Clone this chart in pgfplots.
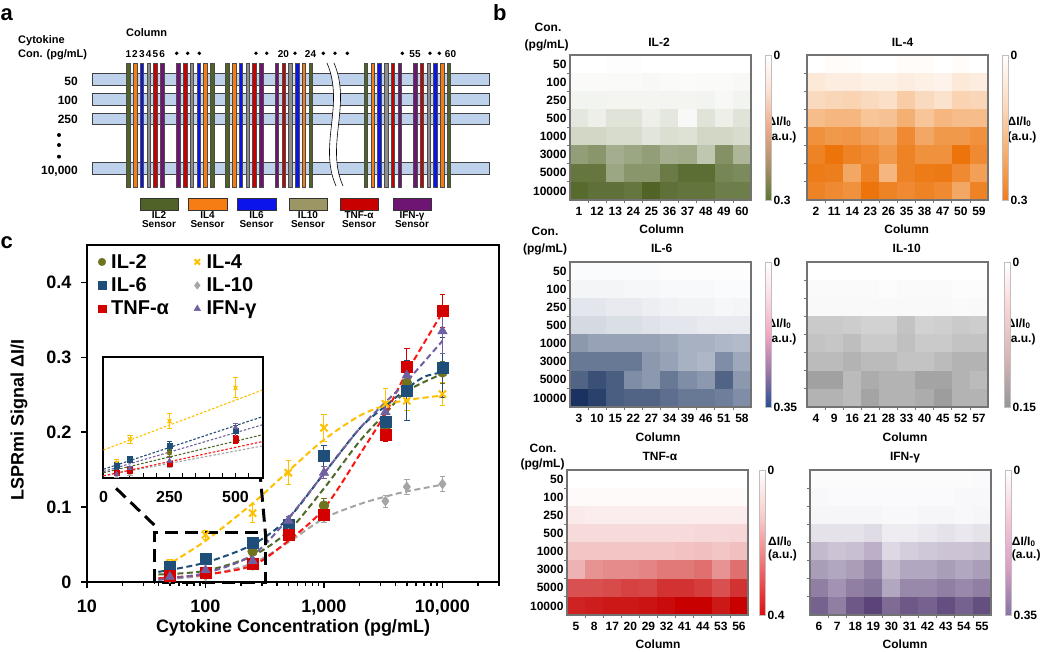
\documentclass[border=0pt]{standalone}
\usepackage{pgfplots}
\pgfplotsset{compat=1.18}
\usepackage{pgfplotstable}
\usepackage{fontspec}
\setmainfont{Liberation Sans}

\newcommand{\fs}[1]{\fontsize{#1}{#1}\selectfont\bfseries}

% series colours (panel c)
\definecolor{ciltwo}{RGB}{111,115,31}
\definecolor{liltwo}{RGB}{80,105,40}
\definecolor{cilfour}{RGB}{255,192,0}
\definecolor{cilsix}{RGB}{31,78,121}
\definecolor{cilten}{RGB}{165,165,165}
\definecolor{ctnf}{RGB}{212,0,0}
\definecolor{ltnf}{RGB}{255,20,20}
\definecolor{cifn}{RGB}{112,96,160}
% sensor colours (panel a)
\definecolor{sgreen}{RGB}{79,98,40}
\definecolor{sorange}{RGB}{245,125,20}
\definecolor{sblue}{RGB}{10,20,235}
\definecolor{skhaki}{RGB}{155,150,100}
\definecolor{sgray}{RGB}{140,140,140}
\definecolor{sred}{RGB}{200,0,0}
\definecolor{spurple}{RGB}{110,20,115}
\definecolor{strip}{RGB}{190,210,235}

\pgfplotsset{
  colormap={hIItwo}{rgb255=(255,255,255) rgb255=(75,95,30)},
  colormap={hIIfour}{rgb255=(255,255,255) rgb255=(235,110,0)},
  colormap={hIIsix}{rgb255=(255,255,255) rgb255=(25,50,95)},
  colormap={hIIten}{rgb255=(255,255,255) rgb255=(105,105,105)},
  colormap={hTNF}{rgb255=(255,255,255) rgb255=(200,0,0)},
  colormap={hIFN}{rgb255=(255,255,255) rgb255=(85,60,115)},
  colormap={bIItwo}{rgb255=(95,120,50) rgb255=(175,145,105) rgb255=(240,170,135) rgb255=(252,225,210) rgb255=(255,255,255)},
  colormap={bIIfour}{rgb255=(240,125,30) rgb255=(248,175,110) rgb255=(252,220,190) rgb255=(255,255,255)},
  colormap={bIIsix}{rgb255=(40,80,150) rgb255=(160,120,170) rgb255=(245,165,195) rgb255=(250,220,230) rgb255=(255,255,255)},
  colormap={bIIten}{rgb255=(150,150,150) rgb255=(215,180,182) rgb255=(250,210,212) rgb255=(255,255,255)},
  colormap={bTNF}{rgb255=(225,15,15) rgb255=(240,110,110) rgb255=(250,200,200) rgb255=(255,255,255)},
  colormap={bIFN}{rgb255=(135,115,170) rgb255=(220,160,195) rgb255=(248,200,218) rgb255=(255,255,255)},
  hm/.style={
    scale only axis, width=181pt, height=145pt, anchor=north west,
    xmin=-0.5, xmax=9.5, ymin=-0.5, ymax=7.5, y dir=reverse,
    enlargelimits=false, axis on top,
    xtick={0,...,9}, ytick={0,...,7},
    minor xtick={0.5,1.5,...,8.5}, minor ytick={0.5,1.5,...,6.5},
    major tick length=0pt, minor tick length=3pt,
    tick align=outside, xtick pos=bottom, ytick pos=left,
    tick style={draw=black!55, line width=0.8pt},
    axis line style={draw=black!55, line width=1.2pt},
    ticklabel style={font=\fs{12}},
    xticklabel style={yshift=-4pt},
    yticklabels={},
    point meta min=0, point meta max=1,
  },
  cb/.style n args={3}{
    colorbar right,
    colorbar style={colormap name=#1,
      at={(parent axis.north east)}, anchor=north west, xshift=#3,
      scale only axis, width=6pt, height=145pt,
      ytick={0,1}, yticklabels={\textbf{#2},\textbf{0}},
      major tick length=0pt, yticklabel pos=right,
      axis line style={draw=black!25, line width=0.4pt},
      yticklabel style={font=\fs{12}, inner sep=2pt}},
  },
  ebar/.style={
    error bars/y dir=both, error bars/y explicit,
    error bars/error bar style={line width=#1},
    error bars/error mark options={rotate=90, mark size=2.8pt, line width=#1}},
  fit/.style={forget plot, smooth, line width=2pt, dash pattern=on 6pt off 3.5pt},
  ifit/.style={line width=1.1pt, dash pattern=on 2.5pt off 1.8pt},
}

% panel c data: concentration, signal, error
\pgfplotstableread{
x y e
50 0.010 0.004
100 0.013 0.004
250 0.041 0.005
500 0.075 0.006
1000 0.102 0.010
3300 0.205 0.010
5000 0.266 0.012
10000 0.280 0.015
}\tIItwo
\pgfplotstableread{
x y e
50 0.025 0.005
100 0.063 0.006
250 0.092 0.012
500 0.146 0.016
1000 0.206 0.018
3300 0.238 0.020
5000 0.242 0.013
10000 0.251 0.015
}\tIIfour
\pgfplotstableread{
x y e
50 0.020 0.005
100 0.031 0.005
250 0.052 0.007
500 0.077 0.008
1000 0.168 0.014
3300 0.214 0.012
5000 0.256 0.040
10000 0.286 0.040
}\tIIsix
\pgfplotstableread{
x y e
50 0.005 0.003
100 0.008 0.003
250 0.022 0.004
500 0.065 0.005
1000 0.086 0.006
3300 0.108 0.008
5000 0.127 0.010
10000 0.131 0.010
}\tIIten
\pgfplotstableread{
x y e
50 0.009 0.003
100 0.013 0.004
250 0.024 0.004
500 0.063 0.006
1000 0.090 0.008
3300 0.197 0.010
5000 0.287 0.025
10000 0.362 0.022
}\tTNF
\pgfplotstableread{
x y e
50 0.007 0.003
100 0.016 0.004
250 0.028 0.005
500 0.082 0.006
1000 0.146 0.008
3300 0.227 0.010
5000 0.276 0.015
10000 0.335 0.030
}\tIFN

\begin{document}
\begin{tikzpicture}
\useasboundingbox (0,0) rectangle (1050pt,-651pt);
\fill[white] (0,0) rectangle (1050pt,-651pt);

% ---------------- panel a ----------------
\begin{scope}[x=1pt,y=-1pt]
\node[font=\fs{22},anchor=base west,inner sep=0pt] at (0.5,20) {a};
\node[font=\fs{22},anchor=base west,inner sep=0pt] at (493,20) {b};
\node[font=\fs{22},anchor=base west,inner sep=0pt] at (0.5,248) {c};

\node[font=\fs{11},anchor=base,inner sep=0pt] at (146.7,36.5) {Column};
\node[font=\fs{11},anchor=base west,inner sep=0pt] at (18,43) {Cytokine};
\node[font=\fs{11},anchor=base west,inner sep=0pt] at (18,57) {Con. (pg/mL)};
\foreach \t/\y in {50/85,100/104.5,250/123.5,{10,000}/174}
  \node[font=\fs{12},anchor=base east,inner sep=0pt] at (78,\y) {\t};
\foreach \y in {135,145,156.7} \fill (59,\y) circle (2);

\foreach \ya/\yb in {73/85,93/105,113/124.5,162/174}
  \draw[fill=strip, draw=black!75, line width=0.6pt] (92,\ya) rectangle (489,\yb);
\fill[white] (327,60) .. controls (345,105) and (318,145) .. (336,189) -- (343,189)
  .. controls (325,145) and (352,105) .. (334,60) -- cycle;
\draw[line width=0.6pt] (327,63) .. controls (345,105) and (318,145) .. (336,186);
\draw[line width=0.6pt] (334,63) .. controls (352,105) and (325,145) .. (343,186);

\foreach \x/\c in {128.3/sgreen,135.0/sorange,141.8/sblue,148.6/sgray,155.3/sred,162.1/spurple,
  178.3/spurple,185.0/sred,191.8/sgray,198.6/sblue,205.3/sorange,212.1/sgreen,
  227.3/sgreen,234.0/sorange,240.8/sblue,247.6/sgray,254.3/sred,261.1/spurple,
  276.7/spurple,283.4/sred,290.2/sgray,297.0/sblue,303.7/sorange,310.5/sgreen,
  365.7/sgreen,372.4/sorange,379.2/sblue,386.0/sgray,392.7/sred,399.5/spurple,
  415.0/spurple,421.7/sred,428.5/sgray,435.3/sblue,442.0/sorange,448.8/sgreen}
  \draw[fill=\c, draw=black!70, line width=0.4pt] ({\x-1.7},63) rectangle ({\x+1.7},187);

\foreach \x/\t in {128.3/1,135.0/2,141.8/3,148.6/4,155.3/5,162.1/6,283.4/20,310.5/24,415.0/55,450.5/60}
  \node[font=\fs{10},anchor=base,inner sep=0pt] at (\x,57.3) {\t};
\foreach \x in {176.7,187.7,199.3,256,266.7,295,323.3,335,347.3,402.3,430,439.3}
  \fill (\x,53.3) circle (1.9);

\foreach \xa/\xb/\c/\t in {140/178/sgreen/IL2,188/227/sorange/IL4,237/276/sblue/IL6,
  289/327/skhaki/IL10,340/378/sred/TNF-α,393/431/spurple/IFN-γ}{
  \draw[fill=\c, draw=black!80, line width=0.8pt] (\xa,198) rectangle (\xb,210);
  \node[font=\fs{10},anchor=base,inner sep=0pt] at ({(\xa+\xb)/2},218) {\t};
  \node[font=\fs{10},anchor=base,inner sep=0pt] at ({(\xa+\xb)/2},227) {Sensor};
}
\end{scope}

% ---------------- panel b: labels ----------------
\begin{scope}[x=1pt,y=-1pt]
\foreach \x/\y/\t in {548/31.7/Con., 546.7/48/{(pg/mL)}, 659/46.7/IL-2, 902.5/46.7/IL-4,
  661.7/233/Column, 906.7/233/Column,
  545/235/Con., 545/252/{(pg/mL)}, 661.7/252.3/IL-6, 906.7/252.3/IL-10,
  658/441.7/Column, 905/441.7/Column,
  543/452.7/Con., 542.5/467/{(pg/mL)}, 660/460/TNF-α, 905/460/IFN-γ,
  658/648/Column, 905/648/Column}
  \node[font=\fs{12},anchor=base,inner sep=0pt] at (\x,\y) {\t};
\foreach \x/\ya/\yb in {767.5/125/140, 1007.5/125/140, 767.5/327/342, 1006.7/327/342,
  768/545/558.7, 1011.7/545/558.7}{
  \node[font=\fs{12},anchor=base west,inner sep=0pt] at (\x,\ya) {ΔI/I\textsubscript{0}};
  \node[font=\fs{12},anchor=base west,inner sep=0pt] at (\x,\yb) {(a.u.)};
}
\end{scope}

% ---------------- panel b: heat maps ----------------
\begin{axis}[hm, at={(570pt,-55pt)}, colormap name=hIItwo, cb={bIItwo}{0.3}{6pt},
  yticklabels={\textbf{50},\textbf{100},\textbf{250},\textbf{500},\textbf{1000},\textbf{3000},\textbf{5000},\textbf{10000}},
  xticklabels={\textbf{1},\textbf{12},\textbf{13},\textbf{24},\textbf{25},\textbf{36},\textbf{37},\textbf{48},\textbf{49},\textbf{60}}]
\addplot[matrix plot*, mesh/cols=10, mesh/rows=8, point meta=explicit] coordinates {
(0,0)[0] (1,0)[0] (2,0)[0.01] (3,0)[0.01] (4,0)[0] (5,0)[0] (6,0)[0] (7,0)[0] (8,0)[0] (9,0)[0]
(0,1)[0.03] (1,1)[0.03] (2,1)[0.03] (3,1)[0.03] (4,1)[0.04] (5,1)[0.03] (6,1)[0.02] (7,1)[0.03] (8,1)[0.03] (9,1)[0.04]
(0,2)[0.07] (1,2)[0.07] (2,2)[0.06] (3,2)[0.06] (4,2)[0.06] (5,2)[0.06] (6,2)[0.06] (7,2)[0.07] (8,2)[0.04] (9,2)[0.07]
(0,3)[0.15] (1,3)[0.10] (2,3)[0.17] (3,3)[0.17] (4,3)[0.10] (5,3)[0.15] (6,3)[0.04] (7,3)[0.17] (8,3)[0.10] (9,3)[0.17]
(0,4)[0.25] (1,4)[0.25] (2,4)[0.22] (3,4)[0.22] (4,4)[0.16] (5,4)[0.20] (6,4)[0.18] (7,4)[0.25] (8,4)[0.25] (9,4)[0.22]
(0,5)[0.60] (1,5)[0.65] (2,5)[0.50] (3,5)[0.55] (4,5)[0.60] (5,5)[0.50] (6,5)[0.52] (7,5)[0.35] (8,5)[0.68] (9,5)[0.45]
(0,6)[0.85] (1,6)[0.85] (2,6)[0.55] (3,6)[0.65] (4,6)[0.65] (5,6)[0.82] (6,6)[0.90] (7,6)[0.90] (8,6)[0.75] (9,6)[0.72]
(0,7)[0.92] (1,7)[0.88] (2,7)[0.88] (3,7)[0.85] (4,7)[0.96] (5,7)[0.88] (6,7)[0.86] (7,7)[0.86] (8,7)[0.80] (9,7)[0.80]
};
\end{axis}

\begin{axis}[hm, at={(807pt,-55pt)}, colormap name=hIIfour, cb={bIIfour}{0.3}{6pt},
  xticklabels={\textbf{2},\textbf{11},\textbf{14},\textbf{23},\textbf{26},\textbf{35},\textbf{38},\textbf{47},\textbf{50},\textbf{59}}]
\addplot[matrix plot*, mesh/cols=10, mesh/rows=8, point meta=explicit] coordinates {
(0,0)[0] (1,0)[0.02] (2,0)[0.02] (3,0)[0] (4,0)[0] (5,0)[0.02] (6,0)[0.02] (7,0)[0] (8,0)[0.02] (9,0)[0]
(0,1)[0.15] (1,1)[0.12] (2,1)[0.12] (3,1)[0.10] (4,1)[0.10] (5,1)[0.12] (6,1)[0.10] (7,1)[0.08] (8,1)[0.15] (9,1)[0.12]
(0,2)[0.25] (1,2)[0.28] (2,2)[0.30] (3,2)[0.25] (4,2)[0.22] (5,2)[0.35] (6,2)[0.25] (7,2)[0.20] (8,2)[0.30] (9,2)[0.28]
(0,3)[0.45] (1,3)[0.50] (2,3)[0.50] (3,3)[0.40] (4,3)[0.42] (5,3)[0.55] (6,3)[0.40] (7,3)[0.50] (8,3)[0.45] (9,3)[0.45]
(0,4)[0.75] (1,4)[0.70] (2,4)[0.72] (3,4)[0.65] (4,4)[0.60] (5,4)[0.80] (6,4)[0.60] (7,4)[0.70] (8,4)[0.70] (9,4)[0.75]
(0,5)[0.85] (1,5)[0.95] (2,5)[0.85] (3,5)[0.80] (4,5)[0.70] (5,5)[0.85] (6,5)[0.75] (7,5)[0.75] (8,5)[0.95] (9,5)[0.80]
(0,6)[0.90] (1,6)[0.88] (2,6)[0.60] (3,6)[0.85] (4,6)[0.50] (5,6)[0.85] (6,6)[0.90] (7,6)[0.92] (8,6)[0.80] (9,6)[0.65]
(0,7)[0.85] (1,7)[0.80] (2,7)[0.75] (3,7)[0.95] (4,7)[0.85] (5,7)[0.80] (6,7)[0.85] (7,7)[0.80] (8,7)[0.60] (9,7)[0.85]
};
\end{axis}

\begin{axis}[hm, at={(570pt,-262pt)}, colormap name=hIIsix, cb={bIIsix}{0.35}{6pt},
  yticklabels={\textbf{50},\textbf{100},\textbf{250},\textbf{500},\textbf{1000},\textbf{3000},\textbf{5000},\textbf{10000}},
  xticklabels={\textbf{3},\textbf{10},\textbf{15},\textbf{22},\textbf{27},\textbf{34},\textbf{39},\textbf{46},\textbf{51},\textbf{58}}]
\addplot[matrix plot*, mesh/cols=10, mesh/rows=8, point meta=explicit] coordinates {
(0,0)[0.02] (1,0)[0.02] (2,0)[0.02] (3,0)[0.02] (4,0)[0.02] (5,0)[0.01] (6,0)[0.01] (7,0)[0.01] (8,0)[0.01] (9,0)[0.01]
(0,1)[0.05] (1,1)[0.05] (2,1)[0.05] (3,1)[0.04] (4,1)[0.04] (5,1)[0.03] (6,1)[0.03] (7,1)[0.03] (8,1)[0.02] (9,1)[0.02]
(0,2)[0.12] (1,2)[0.12] (2,2)[0.10] (3,2)[0.10] (4,2)[0.08] (5,2)[0.07] (6,2)[0.06] (7,2)[0.06] (8,2)[0.04] (9,2)[0.05]
(0,3)[0.18] (1,3)[0.18] (2,3)[0.16] (3,3)[0.16] (4,3)[0.14] (5,3)[0.12] (6,3)[0.12] (7,3)[0.10] (8,3)[0.10] (9,3)[0.10]
(0,4)[0.50] (1,4)[0.45] (2,4)[0.45] (3,4)[0.45] (4,4)[0.45] (5,4)[0.42] (6,4)[0.38] (7,4)[0.38] (8,4)[0.35] (9,4)[0.33]
(0,5)[0.65] (1,5)[0.65] (2,5)[0.65] (3,5)[0.65] (4,5)[0.50] (5,5)[0.45] (6,5)[0.38] (7,5)[0.35] (8,5)[0.55] (9,5)[0.42]
(0,6)[0.75] (1,6)[0.85] (2,6)[0.78] (3,6)[0.55] (4,6)[0.50] (5,6)[0.65] (6,6)[0.55] (7,6)[0.50] (8,6)[0.75] (9,6)[0.50]
(0,7)[1.00] (1,7)[0.92] (2,7)[0.78] (3,7)[0.75] (4,7)[0.75] (5,7)[0.70] (6,7)[0.65] (7,7)[0.65] (8,7)[0.62] (9,7)[0.55]
};
\end{axis}

\begin{axis}[hm, at={(807pt,-262pt)}, colormap name=hIIten, cb={bIIten}{0.15}{8pt},
  xticklabels={\textbf{4},\textbf{9},\textbf{16},\textbf{21},\textbf{28},\textbf{33},\textbf{40},\textbf{45},\textbf{52},\textbf{57}}]
\addplot[matrix plot*, mesh/cols=10, mesh/rows=8, point meta=explicit] coordinates {
(0,0)[0] (1,0)[0] (2,0)[0] (3,0)[0] (4,0)[0] (5,0)[0] (6,0)[0] (7,0)[0] (8,0)[0] (9,0)[0]
(0,1)[0.03] (1,1)[0.03] (2,1)[0.03] (3,1)[0.03] (4,1)[0.02] (5,1)[0.03] (6,1)[0.03] (7,1)[0.03] (8,1)[0.02] (9,1)[0.02]
(0,2)[0.04] (1,2)[0.04] (2,2)[0.04] (3,2)[0.04] (4,2)[0.04] (5,2)[0.04] (6,2)[0.04] (7,2)[0.04] (8,2)[0.03] (9,2)[0.04]
(0,3)[0.35] (1,3)[0.35] (2,3)[0.33] (3,3)[0.30] (4,3)[0.30] (5,3)[0.40] (6,3)[0.30] (7,3)[0.32] (8,3)[0.35] (9,3)[0.33]
(0,4)[0.40] (1,4)[0.38] (2,4)[0.43] (3,4)[0.35] (4,4)[0.35] (5,4)[0.42] (6,4)[0.35] (7,4)[0.35] (8,4)[0.40] (9,4)[0.40]
(0,5)[0.45] (1,5)[0.45] (2,5)[0.50] (3,5)[0.45] (4,5)[0.45] (5,5)[0.40] (6,5)[0.40] (7,5)[0.45] (8,5)[0.50] (9,5)[0.50]
(0,6)[0.62] (1,6)[0.62] (2,6)[0.45] (3,6)[0.55] (4,6)[0.50] (5,6)[0.50] (6,6)[0.60] (7,6)[0.60] (8,6)[0.50] (9,6)[0.45]
(0,7)[0.50] (1,7)[0.50] (2,7)[0.45] (3,7)[0.60] (4,7)[0.50] (5,7)[0.50] (6,7)[0.55] (7,7)[0.65] (8,7)[0.50] (9,7)[0.50]
};
\end{axis}

\begin{axis}[hm, at={(567pt,-470pt)}, colormap name=hTNF, cb={bTNF}{0.4}{3pt},
  yticklabels={\textbf{50},\textbf{100},\textbf{250},\textbf{500},\textbf{1000},\textbf{3000},\textbf{5000},\textbf{10000}},
  xticklabels={\textbf{5},\textbf{8},\textbf{17},\textbf{20},\textbf{29},\textbf{32},\textbf{41},\textbf{44},\textbf{53},\textbf{56}}]
\addplot[matrix plot*, mesh/cols=10, mesh/rows=8, point meta=explicit] coordinates {
(0,0)[0] (1,0)[0] (2,0)[0] (3,0)[0] (4,0)[0] (5,0)[0] (6,0)[0] (7,0)[0] (8,0)[0] (9,0)[0]
(0,1)[0.02] (1,1)[0.02] (2,1)[0.02] (3,1)[0.02] (4,1)[0.02] (5,1)[0.02] (6,1)[0.02] (7,1)[0.02] (8,1)[0.02] (9,1)[0.02]
(0,2)[0.08] (1,2)[0.07] (2,2)[0.07] (3,2)[0.07] (4,2)[0.07] (5,2)[0.07] (6,2)[0.07] (7,2)[0.07] (8,2)[0.07] (9,2)[0.07]
(0,3)[0.14] (1,3)[0.14] (2,3)[0.14] (3,3)[0.14] (4,3)[0.14] (5,3)[0.14] (6,3)[0.14] (7,3)[0.15] (8,3)[0.15] (9,3)[0.16]
(0,4)[0.22] (1,4)[0.22] (2,4)[0.22] (3,4)[0.22] (4,4)[0.22] (5,4)[0.22] (6,4)[0.24] (7,4)[0.25] (8,4)[0.22] (9,4)[0.25]
(0,5)[0.30] (1,5)[0.42] (2,5)[0.45] (3,5)[0.45] (4,5)[0.48] (5,5)[0.52] (6,5)[0.52] (7,5)[0.56] (8,5)[0.42] (9,5)[0.56]
(0,6)[0.68] (1,6)[0.68] (2,6)[0.70] (3,6)[0.74] (4,6)[0.72] (5,6)[0.80] (6,6)[0.80] (7,6)[0.76] (8,6)[0.68] (9,6)[0.80]
(0,7)[0.86] (1,7)[0.88] (2,7)[0.90] (3,7)[0.90] (4,7)[0.92] (5,7)[0.95] (6,7)[1.00] (7,7)[1.00] (8,7)[0.90] (9,7)[1.00]
};
\end{axis}

\begin{axis}[hm, at={(810pt,-470pt)}, colormap name=hIFN, cb={bIFN}{0.35}{6pt},
  xticklabels={\textbf{6},\textbf{7},\textbf{18},\textbf{19},\textbf{30},\textbf{31},\textbf{42},\textbf{43},\textbf{54},\textbf{55}}]
\addplot[matrix plot*, mesh/cols=10, mesh/rows=8, point meta=explicit] coordinates {
(0,0)[0.02] (1,0)[0.02] (2,0)[0.02] (3,0)[0.02] (4,0)[0.02] (5,0)[0.02] (6,0)[0.02] (7,0)[0.02] (8,0)[0.02] (9,0)[0.03]
(0,1)[0.04] (1,1)[0.03] (2,1)[0.03] (3,1)[0.03] (4,1)[0.03] (5,1)[0.03] (6,1)[0.03] (7,1)[0.03] (8,1)[0.04] (9,1)[0.04]
(0,2)[0.05] (1,2)[0.05] (2,2)[0.05] (3,2)[0.05] (4,2)[0.04] (5,2)[0.04] (6,2)[0.05] (7,2)[0.05] (8,2)[0.04] (9,2)[0.05]
(0,3)[0.15] (1,3)[0.15] (2,3)[0.15] (3,3)[0.18] (4,3)[0.10] (5,3)[0.10] (6,3)[0.12] (7,3)[0.15] (8,3)[0.12] (9,3)[0.15]
(0,4)[0.35] (1,4)[0.30] (2,4)[0.32] (3,4)[0.40] (4,4)[0.20] (5,4)[0.25] (6,4)[0.28] (7,4)[0.30] (8,4)[0.30] (9,4)[0.32]
(0,5)[0.50] (1,5)[0.45] (2,5)[0.50] (3,5)[0.60] (4,5)[0.35] (5,5)[0.45] (6,5)[0.45] (7,5)[0.50] (8,5)[0.45] (9,5)[0.50]
(0,6)[0.65] (1,6)[0.55] (2,6)[0.65] (3,6)[0.70] (4,6)[0.45] (5,6)[0.60] (6,6)[0.60] (7,6)[0.65] (8,6)[0.60] (9,6)[0.65]
(0,7)[0.80] (1,7)[0.65] (2,7)[0.85] (3,7)[0.95] (4,7)[0.75] (5,7)[0.85] (6,7)[0.80] (7,7)[0.90] (8,7)[0.80] (9,7)[0.90]
};
\end{axis}

% ---------------- panel c: main plot ----------------
\begin{axis}[
  at={(87pt,-582pt)}, anchor=south west,
  scale only axis, width=412pt, height=337pt,
  xmode=log, xmin=10, xmax=30000, ymin=0, ymax=0.45,
  clip=false,
  axis line style={line width=2.4pt},
  tick align=outside, xtick pos=bottom, ytick pos=left,
  xtick={10,100,1000,10000},
  minor xtick={20,30,...,90,200,300,...,900,2000,3000,...,9000,20000,30000},
  xticklabels={\textbf{10},\textbf{100},\textbf{1,000},\textbf{10,000}},
  ytick={0,0.1,0.2,0.3,0.4},
  yticklabels={\textbf{0},\textbf{0.1},\textbf{0.2},\textbf{0.3},\textbf{0.4}},
  major tick length=6pt, minor tick length=4pt,
  tick style={black, line width=1.5pt},
  ticklabel style={font=\fs{18}},
  yticklabel style={xshift=-6pt},
  xticklabel style={yshift=-8pt},
  xlabel={Cytokine Concentration (pg/mL)},
  ylabel={LSPRmi Signal ΔI/I},
  xlabel style={font=\fs{18}, at={(axis description cs:0.5,-0.101)}, anchor=north},
  ylabel style={font=\fs{18}, at={(axis description cs:-0.136,0.48)}, anchor=south},
  legend columns=2, legend cell align=left,
  legend style={at={(0,1)}, anchor=north west, xshift=9pt, yshift=-5pt, draw=none, fill=none,
    font=\fs{20}, inner sep=2pt, row sep=4pt,
    /tikz/every even column/.append style={column sep=23pt}},
  legend image code/.code={\path (0pt,0pt) (7pt,0pt); \draw[#1, mark size=3.8pt] plot coordinates {(0pt,0pt)};},
]
% fitted curves
\addplot[fit, color=liltwo] coordinates {(40,0.010) (100,0.015) (250,0.035) (500,0.068) (1000,0.125) (2000,0.188) (3300,0.225) (5000,0.255) (10000,0.278)};
\addplot[fit, color=cilfour] coordinates {(45,0.020) (100,0.055) (250,0.105) (500,0.148) (1000,0.190) (2000,0.222) (3300,0.236) (5000,0.243) (10000,0.249)};
\addplot[fit, color=cilsix] coordinates {(40,0.0135) (100,0.026) (250,0.050) (500,0.085) (1000,0.145) (2000,0.205) (3300,0.235) (5000,0.258) (7000,0.274) (10000,0.280)};
\addplot[fit, color=cilten] coordinates {(40,0.003) (100,0.009) (250,0.025) (500,0.053) (1000,0.085) (2000,0.104) (3300,0.114) (5000,0.121) (10000,0.130)};
\addplot[fit, color=ltnf] coordinates {(40,0.005) (100,0.010) (250,0.022) (500,0.055) (1000,0.098) (2000,0.170) (3300,0.225) (5000,0.280) (10000,0.360)};
\addplot[fit, color=cifn] coordinates {(40,0.003) (100,0.012) (250,0.036) (500,0.085) (1000,0.145) (2000,0.205) (3300,0.240) (5000,0.268) (10000,0.322)};
% measured points
\addplot[only marks, mark=*, color=ciltwo, mark size=5pt, ebar=1pt] table[x=x, y=y, y error=e] {\tIItwo};
\addplot[only marks, mark=x, color=cilfour, mark size=5pt, mark options={line width=2pt}, ebar=1pt] table[x=x, y=y, y error=e] {\tIIfour};
\addplot[only marks, mark=square*, color=cilsix, mark size=5.5pt, ebar=1pt] table[x=x, y=y, y error=e] {\tIIsix};
\addplot[only marks, mark=diamond*, color=cilten, mark size=5pt, ebar=1pt] table[x=x, y=y, y error=e] {\tIIten};
\addplot[only marks, mark=square*, color=ctnf, mark size=5.5pt, ebar=1pt] table[x=x, y=y, y error=e] {\tTNF};
\addplot[only marks, mark=triangle*, color=cifn, mark size=5.5pt, ebar=1pt] table[x=x, y=y, y error=e] {\tIFN};
\legend{IL-2,IL-4,IL-6,IL-10,TNF-α,IFN-γ}
% zoom window and connectors
\draw[line width=3pt, dash pattern=on 13pt off 7pt] (axis cs:37,0) rectangle (axis cs:320,0.066);
\draw[line width=3pt, dash pattern=on 13pt off 7pt] (axis cs:37,0.076) -- (axis cs:16.1,0.131);
\draw[line width=3pt, dash pattern=on 13pt off 7pt] (axis cs:325,0.054) -- (axis cs:291,0.139);
\end{axis}

% ---------------- panel c: inset ----------------
\begin{axis}[
  at={(102.7pt,-478.3pt)}, anchor=south west,
  scale only axis, width=160pt, height=121.6pt,
  xmin=-3, xmax=603, ymin=0, ymax=0.196,
  axis background/.style={fill=white},
  axis line style={line width=1.8pt},
  ytick=\empty, xtick={0,250,500}, minor xtick={50,100,...,550},
  xticklabels={\textbf{0},\textbf{250},\textbf{500}},
  tick align=inside, xtick pos=bottom,
  major tick length=5pt, minor tick length=5pt,
  tick style={black, line width=1pt},
  ticklabel style={font=\fs{16}},
  xticklabel style={yshift=-9pt},
]
\addplot[ifit, color=cilfour] coordinates {(0,0.0457) (600,0.142)};
\addplot[ifit, color=cilsix] coordinates {(0,0.0145) (600,0.099)};
\addplot[ifit, color=cifn] coordinates {(0,0.011) (600,0.086)};
\addplot[ifit, color=liltwo] coordinates {(0,0.009) (600,0.070)};
\addplot[ifit, color=cilten] coordinates {(0,0.004) (600,0.052)};
\addplot[ifit, color=ltnf] coordinates {(0,0.004) (600,0.059)};
\addplot[only marks, mark=*, color=ciltwo, mark size=2.5pt, ebar=0.7pt, restrict x to domain=0:600] table[x=x, y=y, y error=e] {\tIItwo};
\addplot[only marks, mark=x, color=cilfour, mark size=2.8pt, mark options={line width=1.2pt}, ebar=0.7pt, restrict x to domain=0:600] table[x=x, y=y, y error=e] {\tIIfour};
\addplot[only marks, mark=square*, color=cilsix, mark size=2.6pt, ebar=0.7pt, restrict x to domain=0:600] table[x=x, y=y, y error=e] {\tIIsix};
\addplot[only marks, mark=diamond*, color=cilten, mark size=2.6pt, ebar=0.7pt, restrict x to domain=0:600] table[x=x, y=y, y error=e] {\tIIten};
\addplot[only marks, mark=square*, color=ctnf, mark size=2.6pt, ebar=0.7pt, restrict x to domain=0:600] table[x=x, y=y, y error=e] {\tTNF};
\addplot[only marks, mark=triangle*, color=cifn, mark size=2.8pt, ebar=0.7pt, restrict x to domain=0:600] table[x=x, y=y, y error=e] {\tIFN};
\end{axis}
\end{tikzpicture}
\end{document}
